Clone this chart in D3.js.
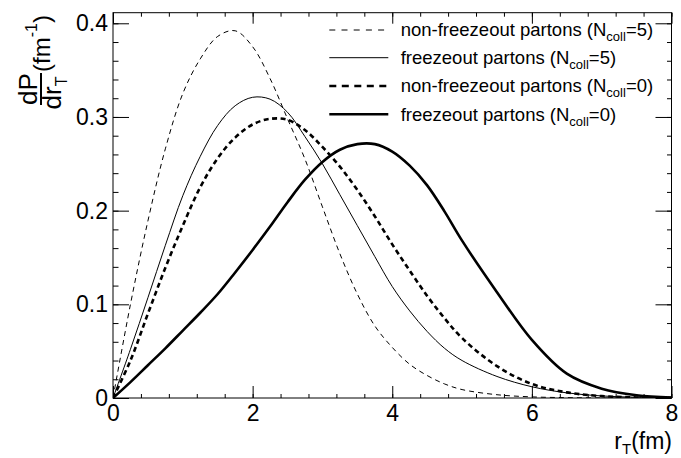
<!DOCTYPE html>
<html>
<head>
<meta charset="utf-8">
<script src="https://cdn.jsdelivr.net/npm/d3@7"></script>
<style>
  html, body { margin: 0; padding: 0; background: #fff; }
  svg { display: block; font-family: "Liberation Sans", Arial, Helvetica, sans-serif; }
</style>
</head>
<body>
<svg id="chart" width="681" height="458"></svg>
<script>
// Transverse radius grid (fm)
const rValues = [0, 0.25, 0.5, 0.75, 1, 1.25, 1.5, 1.75, 2, 2.25, 2.5, 2.75, 3, 3.25, 3.5, 3.75, 4, 4.25, 4.5, 4.75, 5, 5.5, 6, 6.5, 7, 7.5, 8];

// dP/dr_T (fm^-1) for each parton sample
const nonFreezeN5 = [0, 0.100, 0.189, 0.266, 0.325, 0.362, 0.386, 0.392, 0.375, 0.341, 0.298, 0.255, 0.204, 0.154, 0.111, 0.077, 0.054, 0.036, 0.024, 0.015, 0.009, 0.0035, 0.0012, 0.0004, 0.0001, 0, 0];
const freezeN5    = [0, 0.052, 0.107, 0.163, 0.216, 0.258, 0.291, 0.312, 0.321, 0.319, 0.305, 0.279, 0.250, 0.217, 0.184, 0.151, 0.119, 0.093, 0.071, 0.053, 0.040, 0.023, 0.012, 0.0055, 0.0022, 0.0008, 0.0003];
const nonFreezeN0 = [0, 0.040, 0.090, 0.139, 0.184, 0.225, 0.256, 0.278, 0.292, 0.298, 0.297, 0.286, 0.268, 0.247, 0.222, 0.194, 0.164, 0.136, 0.109, 0.085, 0.064, 0.034, 0.015, 0.006, 0.002, 0.0006, 0.0002];
const freezeN0    = [0, 0.017, 0.035, 0.053, 0.072, 0.091, 0.111, 0.134, 0.158, 0.183, 0.209, 0.233, 0.252, 0.265, 0.271, 0.271, 0.263, 0.248, 0.227, 0.199, 0.168, 0.113, 0.062, 0.026, 0.010, 0.003, 0.0005];

const legendLabels = ["non-freezeout partons (N", "freezeout partons (N", "non-freezeout partons (N", "freezeout partons (N"];
const legendNcoll  = ["5", "5", "0", "0"];

const xTickValues = [0, 2, 4, 6, 8];
const yTickValues = [0, 0.1, 0.2, 0.3, 0.4];
const xMinorTicks = d3.range(0, 8.001, 0.4);
const yMinorTicks = d3.range(0, 0.4001, 0.02);

const seriesData = [nonFreezeN5, freezeN5, nonFreezeN0, freezeN0];
const seriesStyle = [
  { width: 1,   dash: "5,4",   legendDash: "6,6.2" },
  { width: 1,   dash: null,    legendDash: null },
  { width: 2.6, dash: "5,3.5", legendDash: "7,5.5" },
  { width: 2.6, dash: null,    legendDash: null }
];

const frame = { left: 113, right: 671.5, top: 12.7, bottom: 398 };

const svg = d3.select("#chart");
const x = d3.scaleLinear().domain([0, 8]).range([frame.left, frame.right]);
const y = d3.scaleLinear().domain([0, 0.4113]).range([frame.bottom, frame.top]);

// Curves, clipped to the frame
svg.append("clipPath").attr("id", "plotclip")
  .append("rect")
  .attr("x", frame.left).attr("y", frame.top)
  .attr("width", frame.right - frame.left).attr("height", frame.bottom - frame.top);

const line = d3.line()
  .x(d => x(d[0]))
  .y(d => y(Math.max(0, d[1])))
  .curve(d3.curveCatmullRom.alpha(0.5));

const curves = svg.append("g").attr("clip-path", "url(#plotclip)");
seriesData.forEach((vals, i) => {
  const pts = rValues.map((r, k) => [r, vals[k]]);
  curves.append("path")
    .datum(pts)
    .attr("d", line)
    .attr("fill", "none")
    .attr("stroke", "#000")
    .attr("stroke-width", seriesStyle[i].width)
    .attr("stroke-dasharray", seriesStyle[i].dash)
    .attr("stroke-linejoin", "round");
});

// Axes with inward ticks on all four sides
function styleAxis(g) {
  g.select(".domain").remove();
  g.selectAll(".tick line").attr("stroke", "#000").attr("stroke-width", 1);
  g.selectAll(".tick text").attr("fill", "#000");
}

const yFmt = d => d === 0 ? "0" : d.toFixed(1);

// bottom
svg.append("g").attr("transform", `translate(0,${frame.bottom})`)
  .call(d3.axisBottom(x).tickValues(xMinorTicks).tickSize(-4).tickFormat(""))
  .call(styleAxis);
svg.append("g").attr("transform", `translate(0,${frame.bottom})`)
  .call(d3.axisBottom(x).tickValues(xTickValues).tickSize(-12).tickPadding(7).tickFormat(d3.format("d")))
  .call(styleAxis)
  .call(g => g.selectAll(".tick text").attr("font-size", 23).attr("font-family", "Liberation Sans, Arial, sans-serif"));

// top
svg.append("g").attr("transform", `translate(0,${frame.top})`)
  .call(d3.axisTop(x).tickValues(xMinorTicks).tickSize(-4).tickFormat(""))
  .call(styleAxis);
svg.append("g").attr("transform", `translate(0,${frame.top})`)
  .call(d3.axisTop(x).tickValues(xTickValues).tickSize(-11).tickFormat(""))
  .call(styleAxis);

// left
svg.append("g").attr("transform", `translate(${frame.left},0)`)
  .call(d3.axisLeft(y).tickValues(yMinorTicks).tickSize(-5.5).tickFormat(""))
  .call(styleAxis);
svg.append("g").attr("transform", `translate(${frame.left},0)`)
  .call(d3.axisLeft(y).tickValues(yTickValues).tickSize(-16).tickPadding(5).tickFormat(yFmt))
  .call(styleAxis)
  .call(g => g.selectAll(".tick text").attr("font-size", 23).attr("font-family", "Liberation Sans, Arial, sans-serif"));

// right
svg.append("g").attr("transform", `translate(${frame.right},0)`)
  .call(d3.axisRight(y).tickValues(yMinorTicks).tickSize(-4.5).tickFormat(""))
  .call(styleAxis);
svg.append("g").attr("transform", `translate(${frame.right},0)`)
  .call(d3.axisRight(y).tickValues(yTickValues).tickSize(-16).tickFormat(""))
  .call(styleAxis);

// frame
svg.append("rect")
  .attr("x", frame.left).attr("y", frame.top)
  .attr("width", frame.right - frame.left).attr("height", frame.bottom - frame.top)
  .attr("fill", "none").attr("stroke", "#000").attr("stroke-width", 1);

// x-axis title: r_T(fm)
const xt = svg.append("text")
  .attr("x", 672).attr("y", 449)
  .attr("text-anchor", "end")
  .attr("font-size", 23)
  .attr("fill", "#000");
xt.append("tspan").text("r");
xt.append("tspan").attr("font-size", 15).attr("dy", 5).text("T");
xt.append("tspan").attr("dy", -5).text("(fm)");

// y-axis title: dP/dr_T (fm^-1), rotated
const yt = svg.append("g").attr("transform", "translate(41,89) rotate(-90)");
yt.append("line")
  .attr("x1", -16).attr("x2", 16).attr("y1", 0).attr("y2", 0)
  .attr("stroke", "#000").attr("stroke-width", 2);
yt.append("text")
  .attr("x", 0).attr("y", -4)
  .attr("text-anchor", "middle")
  .attr("font-size", 26).attr("fill", "#000")
  .text("dP");
const den = yt.append("text")
  .attr("x", -4).attr("y", 20)
  .attr("text-anchor", "middle")
  .attr("font-size", 26).attr("fill", "#000");
den.append("tspan").text("dr");
den.append("tspan").attr("font-size", 16).attr("dy", 6).text("T");
const unit = yt.append("text")
  .attr("x", 17).attr("y", 9)
  .attr("font-size", 24).attr("fill", "#000");
unit.append("tspan").text("(fm");
unit.append("tspan").attr("font-size", 16).attr("dy", -13).text("-1");
unit.append("tspan").attr("dy", 13).text(")");

// legend
const legendRowY = [30, 57.7, 86, 114.3];
const leg = svg.append("g");
legendLabels.forEach((lab, i) => {
  const ly = legendRowY[i];
  leg.append("line")
    .attr("x1", 329.3).attr("x2", 388.3)
    .attr("y1", ly).attr("y2", ly)
    .attr("stroke", "#000")
    .attr("stroke-width", seriesStyle[i].width)
    .attr("stroke-dasharray", seriesStyle[i].legendDash);
  const t = leg.append("text")
    .attr("x", 400.7).attr("y", ly + 6.4)
    .attr("font-size", 18.5).attr("fill", "#000");
  t.append("tspan").text(lab);
  t.append("tspan").attr("font-size", 13).attr("dy", 5).text("coll");
  t.append("tspan").attr("dy", -5).text("=" + legendNcoll[i] + ")");
});
</script>
</body>
</html>
